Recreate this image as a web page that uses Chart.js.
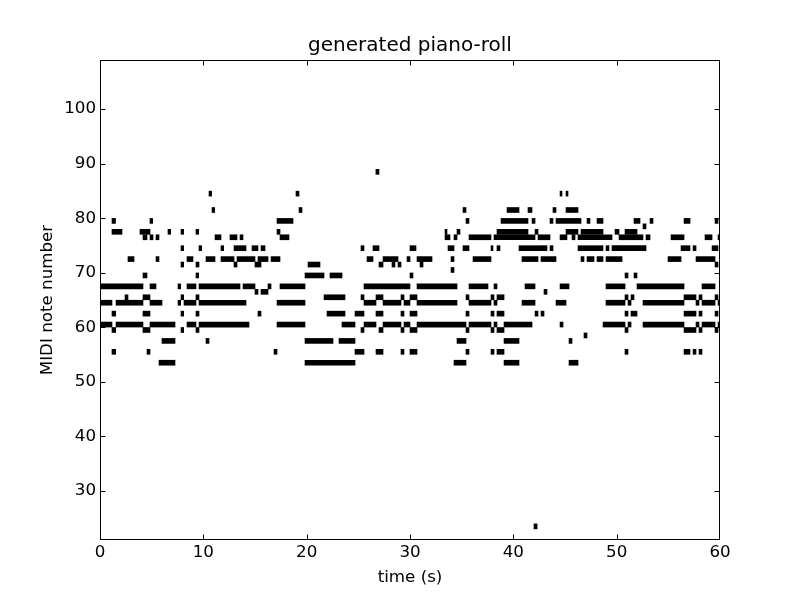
<!DOCTYPE html>
<html>
<head>
<meta charset="utf-8">
<script src="https://cdn.jsdelivr.net/npm/chart.js@4.4.1/dist/chart.umd.min.js"></script>
<style>
  html, body { margin: 0; background: #fff; }
</style>
</head>
<body>
<canvas id="roll" width="800" height="600"></canvas>
<script>
// MIDI pitches and the [on, off] times (s) of each note at that pitch
const pitches = [88, 84, 81, 79, 78, 77, 76, 74, 72, 71, 70, 69, 67, 66, 65, 64, 62, 60, 59, 58, 57, 55, 53, 23];
const spans = [
  [[26.7, 27.0]],
  [[10.55, 10.8], [18.97, 19.26], [44.52, 44.71], [45.1, 45.29]],
  [[10.84, 11.1], [19.26, 19.55], [35.13, 35.42], [39.39, 40.55], [41.42, 41.81], [43.84, 44.13], [45.1, 46.26]],
  [[1.16, 1.5], [4.84, 5.1], [17.13, 18.68], [35.42, 35.71], [38.81, 41.42], [41.81, 42.1], [43.55, 43.84], [44.13, 46.55],
   [47.13, 47.42], [48.1, 48.68], [51.68, 52.26], [53.23, 53.52], [56.52, 57.1], [59.52, 59.81]],
  [[52.55, 52.84]],
  [[1.16, 2.13], [3.87, 4.84], [6.58, 6.84], [7.84, 8.1], [9.29, 9.55], [17.13, 17.42], [33.39, 33.58], [34.55, 34.84],
   [38.42, 41.42], [42.1, 42.39], [45.1, 46.26], [46.55, 48.68], [49.84, 50.23], [50.81, 51.97]],
  [[4.16, 4.55], [4.84, 5.13], [5.42, 5.71], [11.13, 11.71], [12.58, 13.26], [13.55, 13.84], [17.42, 18.29], [33.39, 33.87],
   [34.26, 34.55], [35.71, 37.84], [38.13, 42.1], [42.39, 43.55], [44.52, 45.19], [45.68, 45.97], [46.26, 49.55],
   [50.23, 52.55], [52.84, 53.23], [55.26, 56.52], [58.55, 59.23], [59.81, 60]],
  [[7.84, 8.1], [9.58, 9.84], [11.71, 11.97], [12.97, 14.13], [14.71, 15.29], [15.58, 15.97], [25.26, 25.55], [26.42, 27.0],
   [30.0, 30.58], [33.68, 34.26], [35.13, 35.71], [37.84, 38.03], [38.42, 38.71], [40.55, 43.26], [43.55, 43.84],
   [46.26, 48.68], [48.97, 49.26], [49.55, 52.84], [56.23, 57.1], [57.39, 57.68], [59.23, 59.81]],
  [[2.71, 3.29], [5.42, 5.71], [8.42, 9.0], [10.26, 11.13], [11.71, 12.97], [13.26, 15.0], [15.29, 16.26], [16.55, 17.42],
   [25.84, 26.42], [27.39, 28.84], [29.71, 30.0], [30.68, 32.13], [33.97, 34.26], [36.1, 37.84], [40.84, 42.39],
   [42.68, 44.13], [46.55, 46.84], [47.13, 47.81], [48.1, 48.68], [48.97, 50.52], [54.97, 56.23], [57.68, 59.52]],
  [[7.84, 8.1], [9.29, 9.58], [12.97, 13.26], [15.0, 15.58], [20.13, 21.29], [27.0, 27.39], [28.26, 28.55], [28.84, 29.13],
   [30.97, 31.26], [59.52, 59.81]],
  [[33.97, 34.26]],
  [[4.16, 4.55], [9.29, 9.55], [19.84, 21.68], [22.26, 23.42], [30.0, 30.29], [50.81, 51.1], [51.68, 51.97]],
  [[0, 4.16], [4.84, 5.42], [7.55, 7.81], [8.42, 9.29], [9.58, 13.55], [13.84, 15.0], [16.26, 16.55], [17.42, 19.84],
   [25.55, 30.0], [30.68, 34.55], [35.71, 37.55], [38.13, 38.42], [41.13, 42.1], [44.52, 45.39], [48.97, 50.81],
   [51.97, 56.52], [58.26, 59.52]],
  [[15.0, 15.29], [15.58, 16.26], [42.97, 43.26]],
  [[2.42, 2.71], [4.16, 4.84], [7.84, 8.1], [9.29, 9.58], [21.68, 23.71], [25.26, 25.55], [26.71, 27.39], [29.13, 29.42],
   [30.0, 30.68], [35.42, 35.71], [37.84, 38.13], [38.42, 39.1], [50.81, 51.1], [51.39, 51.68], [56.52, 57.68],
   [57.97, 58.26], [59.52, 59.81]],
  [[0, 1.16], [1.55, 4.16], [4.84, 6.0], [7.55, 7.81], [8.13, 9.29], [9.58, 14.13], [17.13, 19.84], [25.55, 26.71],
   [27.39, 29.13], [29.42, 30.0], [30.68, 34.55], [35.71, 37.84], [38.13, 38.42], [40.84, 42.1], [44.13, 45.1],
   [48.97, 50.81], [51.1, 51.39], [52.55, 56.52], [57.68, 57.97], [58.26, 59.52], [59.81, 60]],
  [[1.16, 1.52], [4.16, 4.84], [7.84, 8.1], [9.29, 9.58], [15.29, 15.58], [21.97, 23.71], [24.68, 25.55], [26.71, 27.39],
   [29.13, 29.42], [30.0, 30.68], [35.42, 35.71], [37.84, 38.13], [38.42, 39.1], [42.1, 42.39], [42.68, 42.97],
   [50.81, 51.1], [51.39, 51.97], [56.52, 57.68], [57.97, 58.26], [59.52, 59.81]],
  [[0, 1.16], [1.55, 4.16], [4.84, 7.26], [8.42, 9.29], [9.58, 14.42], [17.13, 19.84], [23.42, 24.68], [25.55, 26.71],
   [27.39, 29.13], [29.42, 30.0], [30.68, 35.42], [35.71, 37.84], [38.13, 38.42], [39.1, 41.81], [44.52, 44.81],
   [48.68, 50.81], [51.1, 51.39], [52.55, 56.52], [57.68, 57.97], [58.26, 59.52], [59.81, 60]],
  [[1.16, 1.52], [4.16, 4.84], [7.84, 8.1], [9.29, 9.58], [25.26, 25.55], [27.0, 27.39], [29.13, 29.42], [30.0, 30.68],
   [35.42, 35.71], [37.84, 38.13], [38.42, 39.1], [50.81, 51.1], [56.52, 57.68], [57.97, 58.26], [59.52, 59.81]],
  [[46.84, 47.13]],
  [[6.0, 7.26], [10.26, 10.55], [19.84, 22.55], [23.13, 24.68], [34.55, 35.42], [39.1, 40.55], [45.39, 45.68]],
  [[1.16, 1.52], [4.55, 4.84], [16.84, 17.13], [24.68, 25.55], [26.71, 27.39], [29.13, 29.42], [30.0, 30.68],
   [35.42, 35.71], [37.84, 38.13], [38.42, 39.1], [50.81, 51.1], [56.52, 57.1], [57.39, 57.68], [57.97, 58.26]],
  [[5.71, 7.26], [19.84, 24.68], [34.26, 35.42], [39.1, 40.55], [45.39, 46.26]],
  [[42.0, 42.3]]
];
const xTicks = [0, 10, 20, 30, 40, 50, 60];
const yTicks = [30, 40, 50, 60, 70, 80, 90, 100];
const xRange = [0, 60];
const yRange = [21, 109];

// one cell per note, centred in its pitch row
const cells = [];
pitches.forEach((p, i) => {
  spans[i].forEach(s => cells.push({ x: s, y: p + 0.5 }));
});

const tickFont = { family: 'DejaVu Sans', size: 16.7 };

// matplotlib-style frame with inward ticks on all four sides
const framePlugin = {
  id: 'frame',
  afterDraw(chart) {
    const { ctx, chartArea: a, scales } = chart;
    const l = a.left + 0.5, r = a.right - 0.5, t = a.top + 0.5, b = a.bottom - 0.5;
    ctx.save();
    ctx.strokeStyle = '#000';
    ctx.lineWidth = 1;
    ctx.strokeRect(l, t, r - l, b - t);
    ctx.beginPath();
    xTicks.forEach(v => {
      const px = Math.min(Math.max(Math.round(scales.x.getPixelForValue(v)) + 0.5, l), r);
      ctx.moveTo(px, b); ctx.lineTo(px, b - 5);
      ctx.moveTo(px, t); ctx.lineTo(px, t + 5);
    });
    yTicks.forEach(v => {
      const py = Math.round(scales.y.getPixelForValue(v)) + 0.5;
      ctx.moveTo(l, py); ctx.lineTo(l + 5, py);
      ctx.moveTo(r, py); ctx.lineTo(r - 5, py);
    });
    ctx.stroke();
    ctx.restore();
  }
};

new Chart(document.getElementById('roll'), {
  type: 'bar',
  data: {
    datasets: [{
      data: cells,
      backgroundColor: '#000',
      borderWidth: 0,
      barThickness: 5,
      grouped: false
    }]
  },
  options: {
    indexAxis: 'y',
    responsive: false,
    animation: false,
    layout: { padding: { right: 80 } },
    plugins: {
      legend: { display: false },
      tooltip: { enabled: false },
      title: {
        display: true,
        fullSize: false,
        text: 'generated piano-roll',
        color: '#000',
        font: { family: 'DejaVu Sans', size: 20, weight: 'normal' },
        padding: { top: 34, bottom: 2 }
      }
    },
    scales: {
      x: {
        type: 'linear',
        position: 'bottom',
        min: xRange[0],
        max: xRange[1],
        offset: false,
        grid: { display: false, drawTicks: false, offset: false },
        border: { display: false },
        ticks: { color: '#000', font: tickFont, padding: 3, maxRotation: 0 },
        afterBuildTicks: s => { s.ticks = xTicks.map(v => ({ value: v })); },
        afterFit: s => { s.height = 60; },
        title: { display: true, text: 'time (s)', color: '#000', font: tickFont, padding: { bottom: 12 } }
      },
      y: {
        type: 'linear',
        position: 'left',
        min: yRange[0],
        max: yRange[1],
        offset: false,
        grid: { display: false, drawTicks: false, offset: false },
        border: { display: false },
        ticks: { color: '#000', font: tickFont, padding: 4 },
        afterBuildTicks: s => { s.ticks = yTicks.map(v => ({ value: v })); },
        afterFit: s => { s.width = 100; },
        title: { display: true, text: 'MIDI note number', color: '#000', font: tickFont, padding: { top: 38 } }
      }
    }
  },
  plugins: [framePlugin]
});
</script>
</body>
</html>
